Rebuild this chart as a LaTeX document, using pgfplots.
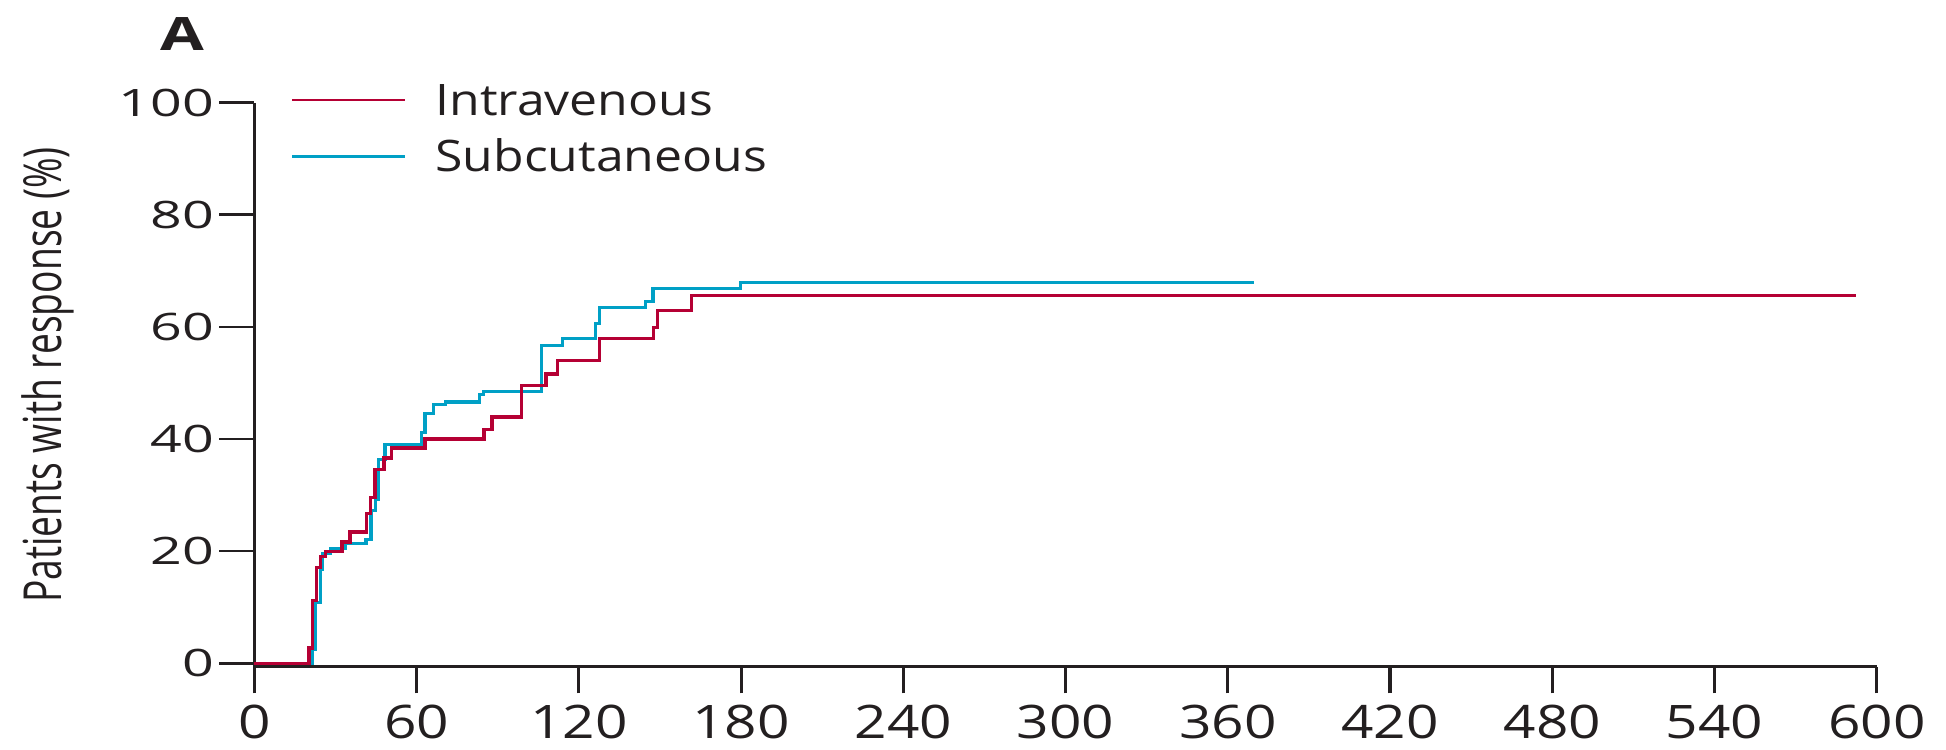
\documentclass[border=0pt]{standalone}
\usepackage{pgfplots}
\pgfplotsset{compat=1.18}
\usepackage{fontspec}
\setmainfont{Open Sans}
\definecolor{ivred}{RGB}{181,0,52}
\definecolor{scblue}{RGB}{0,160,198}
\definecolor{ink}{RGB}{35,31,32}

% Cumulative response, intravenous arm (day, % responding)
\pgfplotstableread{
day pct
0     0
20.2  2.7
21.6  11.2
23.0  17.1
24.5  19.0
26.3  19.9
32.4  21.6
35.4  23.4
41.5  26.7
43.0  29.6
44.6  34.5
47.9  36.6
50.7  38.4
63.1  40.0
84.9  41.7
87.9  43.9
98.8  49.5
107.8 51.6
112.1 54.0
127.7 57.9
147.6 59.9
149.0 62.9
161.6 65.6
592.4 65.6
}\ivdata

% Cumulative response, subcutaneous arm (day, % responding)
\pgfplotstableread{
day pct
0     0
21.5  2.4
22.5  10.8
24.5  16.8
25.3  19.6
28.0  20.5
33.5  21.4
41.3  22.0
43.1  27.3
44.7  29.2
45.8  36.3
48.3  39.0
61.8  41.2
63.1  44.6
66.1  46.1
70.8  46.6
83.1  47.9
84.6  48.4
106.2 56.7
113.8 57.9
126.1 60.6
127.5 63.4
144.6 64.5
147.4 66.8
179.7 67.9
369.7 67.9
}\scdata

\begin{document}
\begin{tikzpicture}
\path[use as bounding box] (0,0) rectangle (486.5pt,187.25pt);
\begin{axis}[
  at={(63.6pt,20.6pt)}, anchor=south west,
  scale only axis, width=405.6pt, height=141pt,
  xmin=0, xmax=600, ymin=-0.6, ymax=100,
  axis x line=bottom, axis y line=left,
  x axis line style={line width=0.92pt, -, color=ink},
  y axis line style={line width=0.83pt, -, color=ink},
  tick align=outside,
  major tick length=8.75pt,
  xtick={0,60,...,600}, ytick={0,20,...,100},
  x tick style={line width=0.8pt, color=ink, /pgfplots/major tick length=6.7pt},
  y tick style={line width=0.67pt, color=ink},
  /pgf/number format/assume math mode=true,
  xticklabel={\scalebox{1.23}[1]{\pgfmathprintnumber{\tick}}},
  yticklabel={\scalebox{1.47}[1]{\pgfmathprintnumber{\tick}}},
  xticklabel style={font=\fontsize{11.55}{12}\selectfont, color=ink, anchor=north, inner sep=0pt, yshift=-0.6pt},
  yticklabel style={font=\fontsize{9.45}{10}\selectfont, color=ink, anchor=east, inner sep=0pt, xshift=-1.2pt},
  ylabel={\scalebox{1}[1.41]{Patients with response (\%)}},
  ylabel style={font=\fontsize{9.3}{10}\selectfont, color=ink, at={(axis description cs:-0.1188,0.517)}, anchor=base, rotate=0},
  legend style={at={(axis description cs:0.0219,1.034)}, anchor=north west,
    draw=none, fill=none, inner sep=0pt, row sep=4.1pt,
    font=\fontsize{10.85}{12}\selectfont, text=ink,
    nodes={inner sep=0pt, text height=7.75pt, text depth=2.3pt}},
  legend cell align=left,
  legend image code/.code={\draw[#1] (0pt,1.1pt) -- (28.25pt,1.1pt);},
  every legend image post/.style={},
  clip=false,
]
\addlegendimage{ivred, line width=0.7pt}
\addlegendentry{\hspace{7.25pt}\scalebox{1.15}[1]{Intravenous}}
\addlegendimage{scblue, line width=0.7pt}
\addlegendentry{\hspace{7.25pt}\scalebox{1.15}[1]{Subcutaneous}}
\addplot[const plot, scblue, line width=0.8pt, forget plot] table[x=day, y=pct] {\scdata};
\addplot[const plot, ivred, line width=0.84pt, forget plot] table[x=day, y=pct] {\ivdata};
\end{axis}
\node[font=\fontsize{11.5}{12}\bfseries, text=ink, anchor=base, inner sep=0pt] at (45.5pt,174.5pt) {\scalebox{1.38}[1]{A}};
\end{tikzpicture}
\end{document}
